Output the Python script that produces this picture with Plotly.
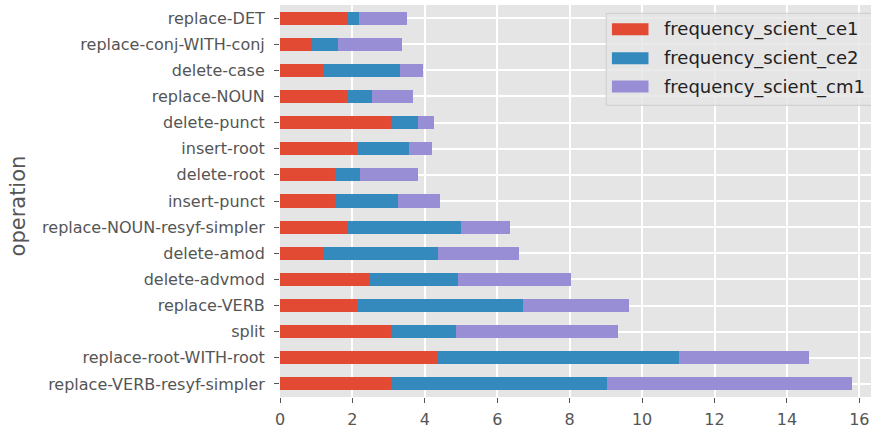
import plotly.graph_objects as go

operations = [
    "replace-DET", "replace-conj-WITH-conj", "delete-case", "replace-NOUN",
    "delete-punct", "insert-root", "delete-root", "insert-punct",
    "replace-NOUN-resyf-simpler", "delete-amod", "delete-advmod",
    "replace-VERB", "split", "replace-root-WITH-root", "replace-VERB-resyf-simpler",
]
frequency_scient_ce1 = [1.84, 0.89, 1.19, 1.84, 3.07, 2.13, 1.53, 1.53, 1.84, 1.19, 2.48, 2.13, 3.07, 4.37, 3.07]
frequency_scient_ce2 = [0.34, 0.70, 2.13, 0.69, 0.75, 1.44, 0.69, 1.74, 3.17, 3.17, 2.43, 4.58, 1.79, 6.66, 5.97]
frequency_scient_cm1 = [1.33, 1.78, 0.64, 1.14, 0.44, 0.64, 1.60, 1.14, 1.34, 2.24, 3.13, 2.93, 4.47, 3.58, 6.76]

series_names = ["frequency_scient_ce1", "frequency_scient_ce2", "frequency_scient_cm1"]
series_values = [frequency_scient_ce1, frequency_scient_ce2, frequency_scient_cm1]
colors = ["#E24A33", "#348ABD", "#988ED5"]
x_ticks = [0, 2, 4, 6, 8, 10, 12, 14, 16]

W, H = 871, 428
L, R, T, B = 279.5, 0, 4.7, 31.2
PW, PH = W - L - R, H - T - B

def px(x):
    return (x - L) / PW

def py(y):
    return 1 - (y - T) / PH

fig = go.Figure()
for name, vals, c in zip(series_names, series_values, colors):
    fig.add_trace(go.Bar(
        y=operations, x=vals, name=name, orientation="h",
        marker=dict(color=c, line=dict(width=0)), width=0.5,
    ))

tick_font = dict(family="DejaVu Sans", size=16, color="#555555")
fig.update_layout(
    width=W, height=H,
    margin=dict(l=L, r=R, t=T, b=B, pad=0, autoexpand=False),
    barmode="stack",
    paper_bgcolor="white",
    plot_bgcolor="#E5E5E5",
    showlegend=False,
    font=dict(family="DejaVu Sans", color="#555555"),
    xaxis=dict(
        range=[0, PW / 36.24], tickvals=x_ticks, ticktext=[str(t) for t in x_ticks],
        showgrid=True, gridcolor="white", gridwidth=1.5, zeroline=False,
        ticks="outside", ticklen=5, tickcolor="#555555", tickwidth=1,
        tickfont=tick_font, showline=False, automargin=False, ticklabelstandoff=3,
    ),
    yaxis=dict(
        autorange="reversed", showgrid=True, gridcolor="white", gridwidth=1.5,
        ticks="outside", ticklen=5, tickcolor="#555555", tickwidth=1,
        tickfont=tick_font, zeroline=False, showline=False, automargin=False,
        ticklabelstandoff=6,
    ),
)

# y axis title
fig.add_annotation(
    text="operation", xref="paper", yref="paper", x=px(17), y=py(205.5),
    textangle=-90, showarrow=False, xanchor="center", yanchor="middle",
    font=dict(family="DejaVu Sans", size=21, color="#555555"),
)

# legend box
fig.add_shape(type="rect", xref="paper", yref="paper",
              x0=px(606), x1=px(880), y0=py(105), y1=py(13),
              fillcolor="rgba(229,229,229,0.8)", line=dict(color="#CCCCCC", width=1),
              layer="above")
for i, (name, c) in enumerate(zip(series_names, colors)):
    yc = [29, 58, 86.3][i]
    fig.add_shape(type="rect", xref="paper", yref="paper",
                  x0=px(611.7), x1=px(648.3), y0=py(yc + 6), y1=py(yc - 6),
                  fillcolor=c, line=dict(width=0), layer="above")
    fig.add_annotation(text=name, xref="paper", yref="paper", x=px(662), y=py(yc),
                       showarrow=False, xanchor="left", yanchor="middle",
                       font=dict(family="DejaVu Sans", size=18, color="#222222"))

fig.write_html(
    "out.html",
    config={"displayModeBar": False},
    post_script="document.body.style.margin='0';document.body.style.overflow='hidden';",
)
